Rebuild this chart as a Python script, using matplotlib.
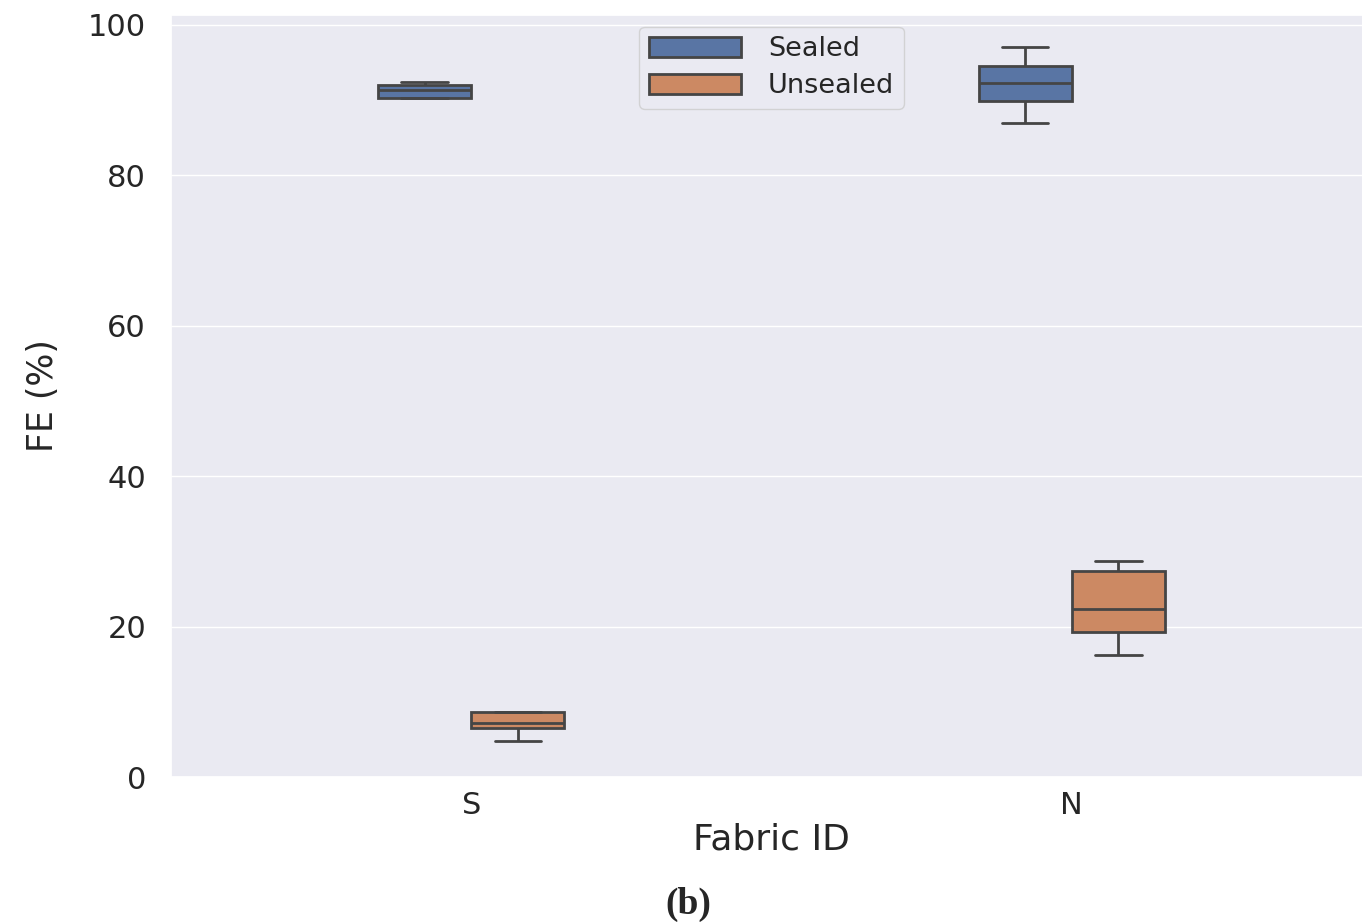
import numpy as np
import pandas as pd
import matplotlib
matplotlib.use("Agg")
import matplotlib.pyplot as plt
import seaborn as sns

# five-number summaries: min, q1, median, q3, max
fabrics = ["S", "N"]
groups = ["Sealed", "Unsealed"]
s_sealed = [90.2, 90.3, 91.3, 92.0, 92.4]
s_unsealed = [4.8, 6.5, 7.2, 8.6, 8.6]
n_sealed = [87.0, 89.9, 92.3, 94.5, 97.1]
n_unsealed = [16.2, 19.3, 22.3, 27.4, 28.7]

rows = []
for fab, grp, vals in [("S", "Sealed", s_sealed), ("S", "Unsealed", s_unsealed),
                       ("N", "Sealed", n_sealed), ("N", "Unsealed", n_unsealed)]:
    for v in vals:
        rows.append({"Fabric ID": fab, "Condition": grp, "FE (%)": v})
df = pd.DataFrame(rows)

sns.set_theme(style="darkgrid")
plt.rcParams['font.family'] = ['DejaVu Sans']

fig = plt.figure(figsize=(13.62, 9.22), dpi=100)
# the plot area runs slightly past the right edge, as in the original crop
ax = fig.add_axes([171/1362, 1 - 777/922, (1372 - 171)/1362, (777 - 15)/922])

sns.boxplot(data=df, x="Fabric ID", y="FE (%)", hue="Condition",
            order=fabrics, hue_order=groups, width=0.31, gap=0,
            linewidth=2, linecolor="#454545", saturation=0.75, ax=ax)

ax.set_ylim(0, 101.3)
ax.set_yticks([0, 20, 40, 60, 80, 100])
ax.tick_params(axis="y", labelsize=22, colors="#262626", pad=12)
ax.tick_params(axis="x", labelsize=22, colors="#262626", pad=4)
ax.set_xlabel("Fabric ID", fontsize=26, color="#262626", labelpad=2)
ax.set_ylabel("FE (%)", fontsize=25, color="#262626", labelpad=20)

leg = ax.legend(loc="upper center", bbox_to_anchor=(0.5, 0.997), fontsize=19.5,
                handlelength=3.4, handleheight=0.75, handletextpad=1.0,
                borderpad=0.35, labelspacing=0.4, borderaxespad=0.35)
leg.get_frame().set_facecolor("#eaeaf2")
leg.get_frame().set_edgecolor("#cccccc")

fig.text(688/1362, 1 - 904/922, "(b)", ha="center", va="center",
         fontsize=27, fontweight="bold", family="Liberation Serif")

fig.savefig("out.png", dpi=100)
